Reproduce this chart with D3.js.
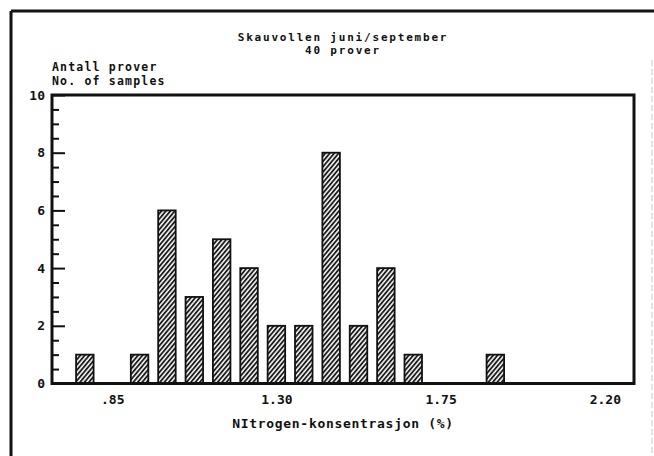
<!DOCTYPE html>
<html>
<head>
<meta charset="utf-8">
<script src="https://cdn.jsdelivr.net/npm/d3@7/dist/d3.min.js"></script>
<style>
  html, body { margin: 0; padding: 0; background: #fff; }
  svg { display: block; }
  text { font-family: "DejaVu Sans Mono", "Liberation Mono", monospace; font-weight: bold; fill: #111; }
</style>
</head>
<body>
<svg id="chart" width="654" height="456"></svg>
<script>
// ---- data ----
const titleLines = ["Skauvollen juni/september", "40 prover"];
const yTitleLines = ["Antall prover", "No. of samples"];
const xTitle = "NItrogen-konsentrasjon (%)";
const binCenters = [0.775, 0.85, 0.925, 1.00, 1.075, 1.15, 1.225, 1.30, 1.375, 1.45, 1.525, 1.60, 1.675, 1.75, 1.825, 1.90];
const counts     = [1,     0,    1,     6,    3,     5,    4,     2,    2,     8,    2,     4,    1,     0,    0,     1];
const xTickValues = [0.85, 1.30, 1.75, 2.20];
const xTickLabels = [".85", "1.30", "1.75", "2.20"];
const yMajorTicks = [0, 2, 4, 6, 8, 10];
const yMinorTicks = [0.5, 1, 1.5, 2.5, 3, 3.5, 4.5, 5, 5.5, 6.5, 7, 7.5, 8.5, 9, 9.5];
const barHalfWidth = 0.024;

// ---- layout ----
const svg = d3.select("#chart");
const plot = { left: 52, right: 634, top: 95, bottom: 383.5 };

const x = d3.scaleLinear().domain([0.685, 2.28]).range([plot.left, plot.right]);
const y = d3.scaleLinear().domain([0, 10]).range([plot.bottom, plot.top]);

// hatch pattern
const defs = svg.append("defs");
const pat = defs.append("pattern")
  .attr("id", "hatch")
  .attr("patternUnits", "userSpaceOnUse")
  .attr("width", 3.4).attr("height", 10)
  .attr("patternTransform", "rotate(40)");
pat.append("rect").attr("width", 3.4).attr("height", 10).attr("fill", "#fff");
pat.append("line").attr("x1", 1).attr("y1", 0).attr("x2", 1).attr("y2", 10)
  .attr("stroke", "#111").attr("stroke-width", 1.8);

// outer frame
svg.append("line").attr("x1", 11).attr("y1", 11).attr("x2", 654).attr("y2", 11)
  .attr("stroke", "#111").attr("stroke-width", 3);
svg.append("line").attr("x1", 11).attr("y1", 11).attr("x2", 11).attr("y2", 456)
  .attr("stroke", "#111").attr("stroke-width", 3);
svg.append("line").attr("x1", 652).attr("y1", 60).attr("x2", 652).attr("y2", 456)
  .attr("stroke", "#c8c8c8").attr("stroke-width", 1).attr("stroke-dasharray", "6 3");

// bars
svg.append("g").selectAll("rect")
  .data(binCenters.map((c, i) => ({ c, n: counts[i] })).filter(d => d.n > 0))
  .join("rect")
  .attr("x", d => x(d.c - barHalfWidth))
  .attr("width", d => x(d.c + barHalfWidth) - x(d.c - barHalfWidth))
  .attr("y", d => y(d.n))
  .attr("height", d => y(0) - y(d.n))
  .attr("fill", "url(#hatch)")
  .attr("stroke", "#111")
  .attr("stroke-width", 1.8);

// y axis ticks (inward)
const yMajor = svg.append("g").attr("transform", `translate(${plot.left},0)`)
  .call(d3.axisLeft(y).tickValues(yMajorTicks).tickSize(-13).tickPadding(7).tickFormat(d3.format("d")));
const yMinor = svg.append("g").attr("transform", `translate(${plot.left},0)`)
  .call(d3.axisLeft(y).tickValues(yMinorTicks).tickSize(-7).tickFormat(""));
[yMajor, yMinor].forEach(g => {
  g.select(".domain").remove();
  g.selectAll("line").attr("stroke", "#111").attr("stroke-width", 2);
  g.selectAll("text").style("font-size", "13px").style("font-family", "'DejaVu Sans Mono', monospace").style("font-weight", "bold").attr("fill", "#111");
});

// x axis labels
const xAxis = svg.append("g").attr("transform", `translate(0,${plot.bottom})`)
  .call(d3.axisBottom(x).tickValues(xTickValues).tickSize(0).tickPadding(11)
    .tickFormat((d, i) => xTickLabels[i]));
xAxis.select(".domain").remove();
xAxis.selectAll("text").style("font-size", "13px").style("font-family", "'DejaVu Sans Mono', monospace").style("font-weight", "bold").attr("fill", "#111");

// plot frame
svg.append("rect")
  .attr("x", plot.left).attr("y", plot.top)
  .attr("width", plot.right - plot.left).attr("height", plot.bottom - plot.top)
  .attr("fill", "none").attr("stroke", "#111").attr("stroke-width", 3);

// titles
const cx = (plot.left + plot.right) / 2;
svg.append("g").selectAll("text").data(titleLines).join("text")
  .attr("x", cx).attr("y", (d, i) => 40.5 + i * 13.5)
  .attr("text-anchor", "middle")
  .style("font-size", "11px").style("letter-spacing", "1.8px")
  .text(d => d);

svg.append("g").selectAll("text").data(yTitleLines).join("text")
  .attr("x", plot.left).attr("y", (d, i) => 71 + i * 14)
  .style("font-size", "11.5px").style("letter-spacing", "1.2px")
  .text(d => d);

svg.append("text")
  .attr("x", cx).attr("y", 428)
  .attr("text-anchor", "middle")
  .style("font-size", "13px").style("letter-spacing", "0.7px")
  .text(xTitle);
</script>
</body>
</html>
